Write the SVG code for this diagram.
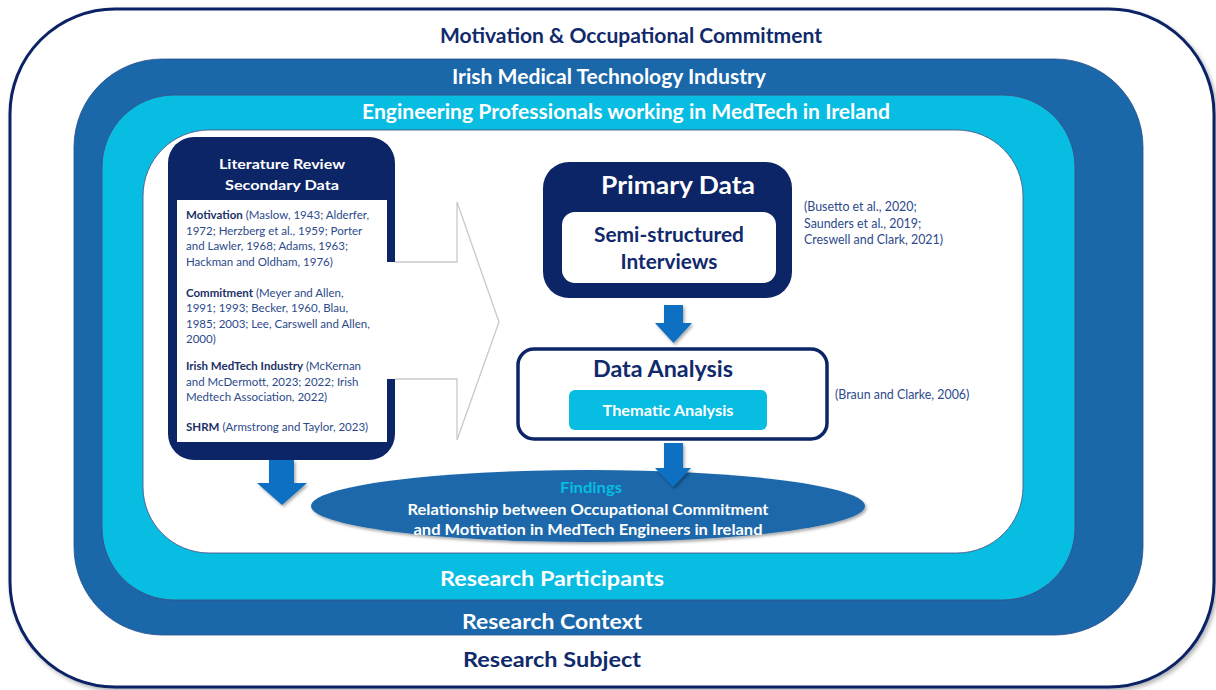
<svg xmlns="http://www.w3.org/2000/svg" width="1216" height="690" viewBox="0 0 1216 690">
  <style>
    text { font-family: Lato, "Open Sans", "Liberation Sans", sans-serif; }
    .band-title { font-weight: 700; font-size: 20px; text-anchor: middle; }
    .white { fill: #ffffff; }
    .navy { fill: #102a6c; }
    .cite { font-size: 12.4px; fill: #2c4a8a; }
    .body { font-size: 11.5px; fill: #2c4a8a; }
    .body .kw { font-weight: 700; fill: #1c3166; }
    .block-arrow { fill: #0a70c2; filter: url(#shadow); }
  </style>
  <defs>
    <filter id="shadow" x="-10%" y="-10%" width="130%" height="130%">
      <feDropShadow dx="1.5" dy="2" stdDeviation="1.5" flood-color="#000000" flood-opacity="0.35"/>
    </filter>
    <filter id="softShadow" x="-5%" y="-5%" width="110%" height="112%">
      <feDropShadow dx="2" dy="2.5" stdDeviation="2" flood-color="#000000" flood-opacity="0.3"/>
    </filter>
  </defs>

  <rect width="1216" height="690" fill="#ffffff"/>

  <!-- Research subject: outer frame -->
  <g id="layer-subject">
    <rect x="10" y="9" width="1204" height="678" rx="105" ry="105" fill="#ffffff" stroke="#0a2466" stroke-width="3" filter="url(#softShadow)"/>
    <text class="band-title navy" x="631" y="43" textLength="382" lengthAdjust="spacingAndGlyphs">Motivation &amp; Occupational Commitment</text>
    <text class="band-title navy" x="552" y="667" textLength="178" lengthAdjust="spacingAndGlyphs">Research Subject</text>
  </g>

  <!-- Research context -->
  <g id="layer-context">
    <rect x="74" y="59" width="1069" height="576" rx="88" ry="88" fill="#1a67aa" stroke="#2a4f8a" stroke-width="0.8"/>
    <text class="band-title white" x="609" y="84" textLength="314" lengthAdjust="spacingAndGlyphs">Irish Medical Technology Industry</text>
    <text class="band-title white" x="552" y="629" textLength="180" lengthAdjust="spacingAndGlyphs">Research Context</text>
  </g>

  <!-- Research participants -->
  <g id="layer-participants">
    <rect x="102" y="95" width="973" height="505" rx="72" ry="72" fill="#07bde1" stroke="#3b4f86" stroke-width="0.9"/>
    <text class="band-title white" x="626" y="119" textLength="528" lengthAdjust="spacingAndGlyphs">Engineering Professionals working in MedTech in Ireland</text>
    <text class="band-title white" x="552" y="586" textLength="224" lengthAdjust="spacingAndGlyphs">Research Participants</text>
  </g>

  <!-- Study area -->
  <g id="layer-study">
    <rect x="143" y="130" width="880" height="423" rx="66" ry="66" fill="#ffffff" stroke="#4a5a8c" stroke-width="0.9"/>
  </g>

  <!-- Literature review -->
  <g id="node-literature">
    <rect x="168" y="137" width="227" height="323" rx="26" ry="26" fill="#0c2567"/>
    <text class="white" x="282" y="169" font-size="14" font-weight="700" text-anchor="middle" textLength="126" lengthAdjust="spacingAndGlyphs">Literature Review</text>
    <text class="white" x="282" y="190" font-size="14" font-weight="700" text-anchor="middle" textLength="114" lengthAdjust="spacingAndGlyphs">Secondary Data</text>
    <rect x="177" y="200" width="210" height="242" fill="#ffffff"/>
  </g>

  <!-- Primary data -->
  <g id="node-primary">
    <rect x="543" y="162" width="249" height="136" rx="26" ry="26" fill="#0c2567"/>
    <text class="white" x="678" y="194" font-size="24" font-weight="700" text-anchor="middle" textLength="154" lengthAdjust="spacingAndGlyphs">Primary Data</text>
    <rect x="562" y="212" width="214" height="71" rx="13" ry="13" fill="#ffffff"/>
    <text class="navy" x="669" y="242" font-size="20" font-weight="700" text-anchor="middle" textLength="150" lengthAdjust="spacingAndGlyphs">Semi-structured</text>
    <text class="navy" x="669" y="269" font-size="20" font-weight="700" text-anchor="middle" textLength="97" lengthAdjust="spacingAndGlyphs">Interviews</text>
    <text class="cite" x="804" y="211">(Busetto et al., 2020;</text>
    <text class="cite" x="804" y="228">Saunders et al., 2019;</text>
    <text class="cite" x="804" y="244">Creswell and Clark, 2021)</text>
  </g>

  <!-- Data analysis -->
  <g id="node-analysis">
    <rect x="518" y="349" width="309" height="90" rx="16" ry="16" fill="#ffffff" stroke="#0c2567" stroke-width="3.5"/>
    <text class="navy" x="663" y="377" font-size="22" font-weight="700" text-anchor="middle" textLength="140" lengthAdjust="spacingAndGlyphs">Data Analysis</text>
    <rect x="569" y="390" width="198" height="40" rx="6" ry="6" fill="#07bde1"/>
    <text class="white" x="668" y="416" font-size="15" font-weight="700" text-anchor="middle" textLength="131" lengthAdjust="spacingAndGlyphs">Thematic Analysis</text>
    <text class="cite" x="835" y="399">(Braun and Clarke, 2006)</text>
  </g>

  <!-- Findings -->
  <g id="node-findings">
    <ellipse cx="588" cy="506" rx="277" ry="36" fill="#1a67aa" filter="url(#shadow)"/>
    <text x="591" y="493" font-size="16" font-weight="700" fill="#07bde1" text-anchor="middle" textLength="62" lengthAdjust="spacingAndGlyphs">Findings</text>
    <text class="white" x="588" y="515" font-size="14.5" font-weight="700" text-anchor="middle" textLength="361" lengthAdjust="spacingAndGlyphs">Relationship between Occupational Commitment</text>
    <text class="white" x="588" y="535" font-size="14.5" font-weight="700" text-anchor="middle" textLength="349" lengthAdjust="spacingAndGlyphs">and Motivation in MedTech Engineers in Ireland</text>
  </g>

  <!-- Connectors -->
  <g id="connectors">
    <!-- large outlined arrow from the review panel to primary data -->
    <path d="M386,262 H457 V202 L499,322 L457,440 V379 H386 Z" fill="#ffffff"/>
    <path d="M395,262 H457 V202 L499,322 L457,440 V379 H395" fill="none" stroke="#c9c9c9" stroke-width="1.3"/>
    <path class="block-arrow" d="M664,305 H683 V323 H692 L673.5,343 L655,323 H664 Z"/>
    <path class="block-arrow" d="M664,443 H683 V468 H691 L673,487 L655,468 H664 Z"/>
    <path class="block-arrow" d="M269,460 H294 V483 H307 L282,505 L257,483 H269 Z"/>
  </g>

  <!-- Literature review references -->
  <g id="literature-text" class="body">
    <text x="186" y="219"><tspan class="kw">Motivation</tspan> (Maslow, 1943; Alderfer,</text>
    <text x="186" y="235">1972; Herzberg et al., 1959; Porter</text>
    <text x="186" y="250">and Lawler, 1968; Adams, 1963;</text>
    <text x="186" y="266">Hackman and Oldham, 1976)</text>
    <text x="186" y="297"><tspan class="kw">Commitment</tspan> (Meyer and Allen,</text>
    <text x="186" y="312">1991; 1993; Becker, 1960, Blau,</text>
    <text x="186" y="328">1985; 2003; Lee, Carswell and Allen,</text>
    <text x="186" y="343">2000)</text>
    <text x="186" y="370"><tspan class="kw">Irish MedTech Industry</tspan> (McKernan</text>
    <text x="186" y="386">and McDermott, 2023; 2022; Irish</text>
    <text x="186" y="401">Medtech Association, 2022)</text>
    <text x="186" y="431"><tspan class="kw">SHRM</tspan> (Armstrong and Taylor, 2023)</text>
  </g>
</svg>
